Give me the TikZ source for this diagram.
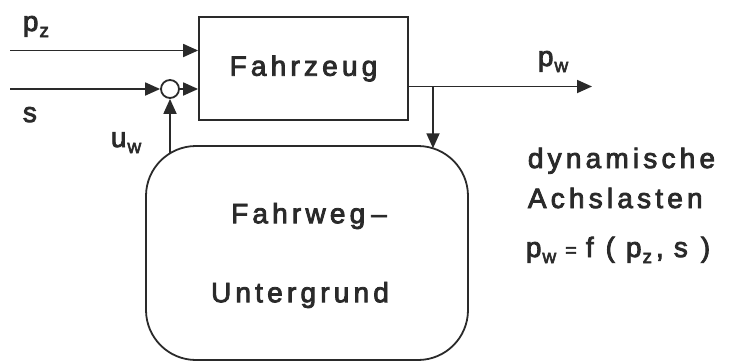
\documentclass[tikz,border=0pt]{standalone}
\usepackage{fontspec}
\setmainfont{Liberation Sans}[LetterSpace=15, FakeBold=3]
\usetikzlibrary{arrows.meta}
\definecolor{ink}{HTML}{2A2A2A}
\newcommand\sbs[1]{\kern1pt\raisebox{-6pt}{\fontsize{19}{19}\selectfont #1}}
\newcommand\gap[1]{\makebox[#1]{}}
\begin{document}
\begin{tikzpicture}[x=1pt,y=-1pt, line width=1.8pt,
  every node/.style={text=ink, font=\fontsize{28}{32}\selectfont, inner sep=0pt},
  arr/.style={draw=ink, -{Triangle[length=15pt,width=13pt]}},
  blk/.style={draw=ink, line width=1.8pt},
  lbl/.style={anchor=base west}]
\useasboundingbox (0,0) rectangle (730,362);
% blocks
\node[blk, minimum width=209pt, minimum height=103pt] (fz) at (303.5,68.5) {Fahrzeug};
\node[blk, rounded corners=50pt, minimum width=322pt, minimum height=214pt] (fw) at (307,253) {};
\node (t1) at (309,216) {Fahrweg\gap{6pt}–};
\node (t2) at (300,295) {Untergrund};
\node[blk, circle, minimum size=18pt] (sum) at (170,89) {};
% coordinates
\coordinate (pzin) at (10,50.5);
\coordinate (sin) at (10,89);
\coordinate (uwst) at (170,153.3);
\coordinate (pwend) at (592,86.5);
\coordinate (br) at (433,86.5);
\coordinate (brend) at (433,148.3);
% connectors
\draw[arr] (pzin) -- (pzin -| fz.west);
\draw[arr] (sin) -- (sum.west);
\draw[arr] (sum.east) -- (sum.east -| fz.west);
\draw[arr] (uwst) -- (sum.south);
\draw[arr] (fz.east |- pwend) -- (pwend);
\draw[arr] (br) -- (brend);
% labels
\node[lbl] (lpz) at (22,31) {p\sbs{z}};
\node[lbl] (ls) at (22,122) {s};
\node[lbl] (luw) at (110,147) {u\sbs{w}};
\node[lbl] (lpw) at (537,66) {p\sbs{w}};
\node[lbl] (ld) at (527,168) {dynamische};
\node[lbl] (la) at (527,208) {Achslasten};
\node[lbl] (lf) at (525,257) {p\sbs{w}\gap{9pt}{\fontsize{20}{20}\selectfont =}\gap{9pt}f\gap{12pt}(\gap{11pt}p\sbs{z}\gap{4pt},\gap{10pt}s\gap{13pt})};
\end{tikzpicture}
\end{document}
